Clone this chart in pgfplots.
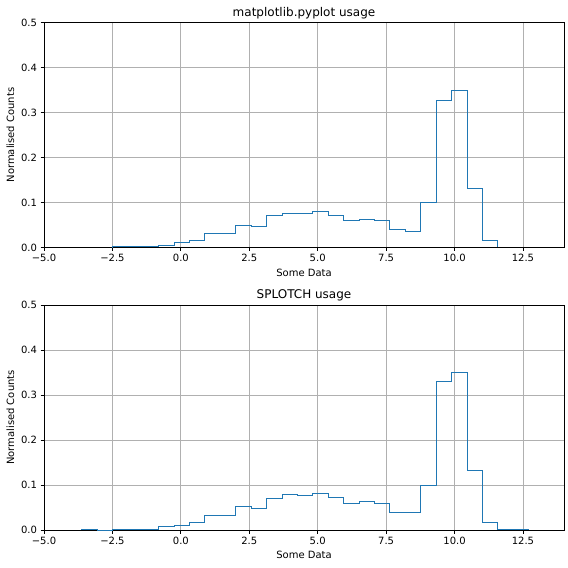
\documentclass[border=0pt]{standalone}
\usepackage{pgfplots}
\pgfplotsset{compat=1.18}
\usepackage{fontspec}
\setmainfont{DejaVu Sans}
\definecolor{mplblue}{HTML}{1F77B4}
\definecolor{gridgray}{HTML}{B0B0B0}
\pgfplotsset{
  histax/.style={
    scale only axis, width=520pt, height=225pt,
    anchor=south west,
    xmin=-5, xmax=14, ymin=0, ymax=0.5,
    xtick={-5,-2.5,0,2.5,5,7.5,10,12.5},
    xticklabels={−5.0,−2.5,0.0,2.5,5.0,7.5,10.0,12.5},
    ytick={0,0.1,0.2,0.3,0.4,0.5},
    yticklabels={0.0,0.1,0.2,0.3,0.4,0.5},
    tick align=outside, tick pos=left,
    major tick length=3.5pt,
    every tick/.style={black, line width=0.8pt},
    axis line style={line width=0.8pt},
    grid=major,
    major grid style={gridgray, line width=0.8pt},
    tick label style={font=\fontsize{10}{12}\selectfont},
    label style={font=\fontsize{10}{12}\selectfont},
    xlabel={Some Data}, ylabel={Normalised Counts},
    title style={font=\fontsize{12}{14}\selectfont, anchor=base, inner sep=0pt},
    /pgf/number format/assume math mode=true,
  }
}
\begin{document}
\begin{tikzpicture}
\path[use as bounding box] (0,0) rectangle (568pt,568pt);
\begin{axis}[histax, at={(44pt,320.5pt)}, title={matplotlib.pyplot usage}]
\addplot[mplblue, line width=1pt, const plot mark left] coordinates {
(-2.5,0) (-2.5,0.002) (-1.937,0.002) (-1.373,0.002) (-0.810,0.005) (-0.246,0.011) (0.317,0.0156) (0.880,0.031) (1.444,0.031) (2.007,0.049) (2.571,0.047) (3.134,0.071) (3.697,0.0756) (4.261,0.0756) (4.824,0.080) (5.388,0.071) (5.951,0.060) (6.514,0.062) (7.078,0.060) (7.641,0.040) (8.205,0.0356) (8.768,0.100) (9.331,0.3267) (9.895,0.349) (10.458,0.131) (11.022,0.0156) (11.585,0)
};
\end{axis}
\begin{axis}[histax, at={(44pt,38pt)}, title={SPLOTCH usage}]
\addplot[mplblue, line width=1pt, const plot mark left] coordinates {
(-3.627,0) (-3.627,0.002) (-3.063,0) (-2.5,0.002) (-1.937,0.002) (-1.373,0.002) (-0.810,0.0067) (-0.246,0.011) (0.317,0.0156) (0.880,0.032) (1.444,0.033) (2.007,0.052) (2.571,0.047) (3.134,0.071) (3.697,0.078) (4.261,0.0756) (4.824,0.082) (5.388,0.073) (5.951,0.060) (6.514,0.064) (7.078,0.060) (7.641,0.040) (8.205,0.038) (8.768,0.100) (9.331,0.329) (9.895,0.349) (10.458,0.132) (11.022,0.0156) (11.585,0.002) (12.148,0.002) (12.712,0)
};
\end{axis}
\end{tikzpicture}
\end{document}
